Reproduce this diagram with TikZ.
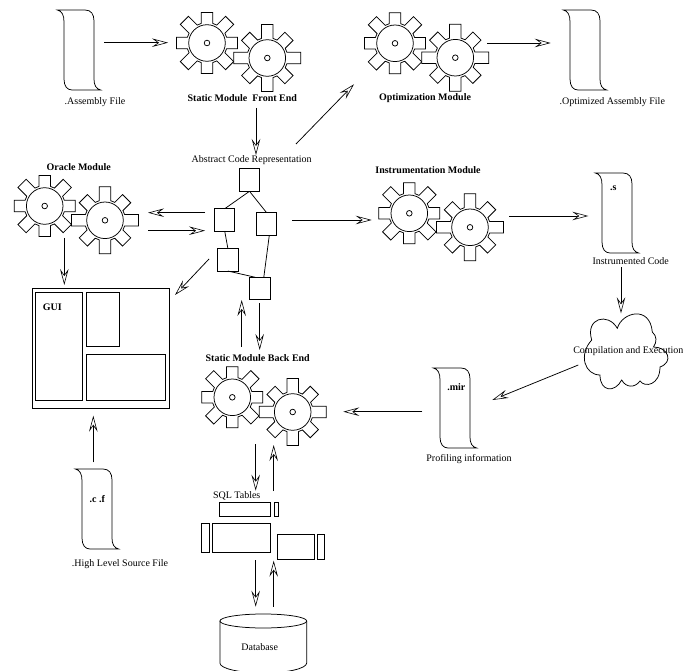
\documentclass[tikz,border=0pt]{standalone}
\usepackage{fontspec}
\setmainfont{Liberation Serif}
\usetikzlibrary{arrows.meta}
\tikzset{
  lbl/.style={font=\fontsize{10}{12}\selectfont,inner sep=0pt},
  lblbold/.style={font=\fontsize{10}{12}\selectfont\bfseries,inner sep=0pt},
  flow/.style={-{Stealth[length=16pt,width=8.5pt,inset=6pt,fill=white,line width=0.6pt]}},
  tbl/.style={draw,minimum width=#1,inner sep=0pt,outer sep=0pt},
  pics/cog/.style n args={2}{code={
    \draw[fill=white] (-16.5:20.4)
      \foreach \a/\r in {0/#1,45/#2,90/#1,135/#2,180/#1,225/#2,270/#1,315/#2}{
        -- ({\a-16.5}:20.4) -- ({\a-atan(5.8/\r)}:{sqrt(\r*\r+33.64)})
        -- ({\a+atan(5.8/\r)}:{sqrt(\r*\r+33.64)}) -- ({\a+16.5}:20.4)
      } -- cycle;
    \draw (0,0) circle (18.3);
    \draw (0,0) circle (2.8);
  }},
  pics/scrollfile/.style={code={
    \draw (-6.7,0) .. controls (-2,1) and (0,5) .. (0,12) -- (0,69)
      .. controls (0,76) and (3,80) .. (8,80) -- (36.7,80)
      .. controls (32,79) and (30,75) .. (30,69) -- (30,11)
      .. controls (30,4) and (27,0) .. (21,0) -- cycle;
  }}
}

\begin{document}
\begin{tikzpicture}[x=1pt,y=-1pt,line width=0.75pt]
  \useasboundingbox (0,0) rectangle (683,671);
  \foreach \name/\xa/\ya/\xb/\yb in {front/207/43/267.3/58,optim/395/43.3/455.3/57.7,oracle/44.7/206/105/220.3,instr/409.3/213.3/470/227.3,back/232.3/397.3/292.7/412}{
    \pic (\name1) at (\xa,\ya) {cog={30.5}{32}};
    \pic (\name2) at (\xb,\yb) {cog={33.5}{30.6}};
  }
  \foreach \name/\x/\y in {asmfile/64/10,optfile/570/10,sfile/602/173,mirfile/440/368,cfile/82/469}{
    \pic (\name) at (\x,\y) {scrollfile};
  }
  \foreach \name/\x/\y/\w/\h in {gui/101/348.5/137.4/119.6,guileft/59/346.7/46.6/108,guitop/102.7/319.7/32.7/54,guilow/126/377.4/79.4/46.7,
    sqtop/249.5/179.8/20.4/23,sqleft/224.7/219.9/20/22.3,sqright/266.3/223.8/20/23,sqlow/227.8/259.5/20.3/23,sqbase/259.8/288.5/20.3/22.4,
    tbla/245/509.3/50.6/14,tblb/276/509.2/4/14.3,tblc/205.5/538/7.6/28.6,tbld/241.3/538/58/28.6,tble/295.7/547.2/36.7/25,tblf/321/547.2/7.4/25}{
    \node[tbl=\w,minimum height=\h] (\name) at (\x,\y) {};
  }
  \draw (sqtop.south) -- (sqleft.north);
  \draw (sqtop.south) -- (sqright.north);
  \draw (sqleft.south) -- (sqlow.north);
  \draw ([xshift=3pt]sqright.south) -- ([xshift=4pt]sqbase.north);
  \draw (sqlow.south) -- ([xshift=-4.5pt]sqbase.north);
  \draw (263.3,621) ellipse (43.4 and 7);
  \draw (219.9,621) -- (219.9,663) arc (180:0:43.4 and 10) -- (306.7,621);
  \draw (617.3,328.3) .. controls (622,312) and (650,305) .. (652.3,332)
    .. controls (657,336) and (657,342) .. (653.5,347)
    .. controls (668,347) and (674,362) .. (660,367)
    .. controls (660,385) and (645,388) .. (640,381)
    .. controls (635,388) and (626,388) .. (621.7,380)
    .. controls (615,393) and (600,392) .. (600,375)
    .. controls (585,375) and (578,355) .. (591.7,340)
    .. controls (585,318) and (608,312) .. cycle;
  \foreach \name/\x/\y/\txt in {asmlbl/95/101.7/{.Assembly File},optlbl/612.3/101.7/{.Optimized Assembly File},abslbl/251.7/160/{Abstract Code Representation},
    codelbl/630.7/261/{Instrumented Code},cloudlbl/628.3/351/{Compilation and Execution},proflbl/469/459/{Profiling information},
    srclbl/120/563.7/{.High Level Source File},sqllbl/236.7/495.7/{SQL Tables},dblbl/259.7/646.7/{Database}}{
    \node[lbl] (\name) at (\x,\y) {\txt};
  }
  \foreach \name/\x/\y/\txt in {frontlbl/242.3/97.7/{Static Module\ \ Front End},optimlbl/425/97.7/{Optimization Module},oraclelbl/78.7/166.7/{Oracle Module},
    instrlbl/428/170/{Instrumentation Module},backlbl/257.7/357.7/{Static Module Back End},guilbl/52.3/307.7/{GUI},slbl/613.3/188.3/{.s},mirlbl/456.3/387.3/{.mir},clbl/97.3/499.3/{.c .f}}{
    \node[lblbold] (\name) at (\x,\y) {\txt};
  }
  \foreach \name/\x/\y in {asmout/104/42.7,frontin/168/42.7,frontout/256/108,absin/256/155,absup/296/144,optin/354/84.3,optout/487.3/43,optfilein/550.7/43,
    orain/205/212.7,oratip/148/212.7,oraout/148/230.7,graphin/205/230.7,oradown/64.3/238,guiin/64.3/285,graphout/209/259,guitip/175/295,
    instrfrom/292.3/220,instrin/371.7/220,instrout/509/216,sin/588.3/216,sout/621/267.3,cloudin/621/313.3,cloudout/578.3/365,mirin/492.3/400,
    mirout/422.3/411.7,backin/343.3/411.7,cout/93.3/462.3,guibot/93.3/415.7,backup/241.7/346.7,graphbot/241.7/300,graphdown/259.7/303.3,backtop/259.7/350,
    backdown/255.7/444.3,sqlin/255.7/490.7,sqlup/273.7/491,backlow/273.7/445,sqldown/255.7/560,dbin/255.7/606.7,dbup/273.7/606.7,sqlbot/273.7/560.7}{
    \coordinate (\name) at (\x,\y);
  }
  \foreach \src/\dst in {asmout/frontin,frontout/absin,absup/optin,optout/optfilein,orain/oratip,oraout/graphin,oradown/guiin,graphout/guitip,
    instrfrom/instrin,instrout/sin,sout/cloudin,cloudout/mirin,mirout/backin,cout/guibot,backup/graphbot,graphdown/backtop,
    backdown/sqlin,sqlup/backlow,sqldown/dbin,dbup/sqlbot}{
    \draw[flow] (\src) -- (\dst);
  }
\end{tikzpicture}
\end{document}
